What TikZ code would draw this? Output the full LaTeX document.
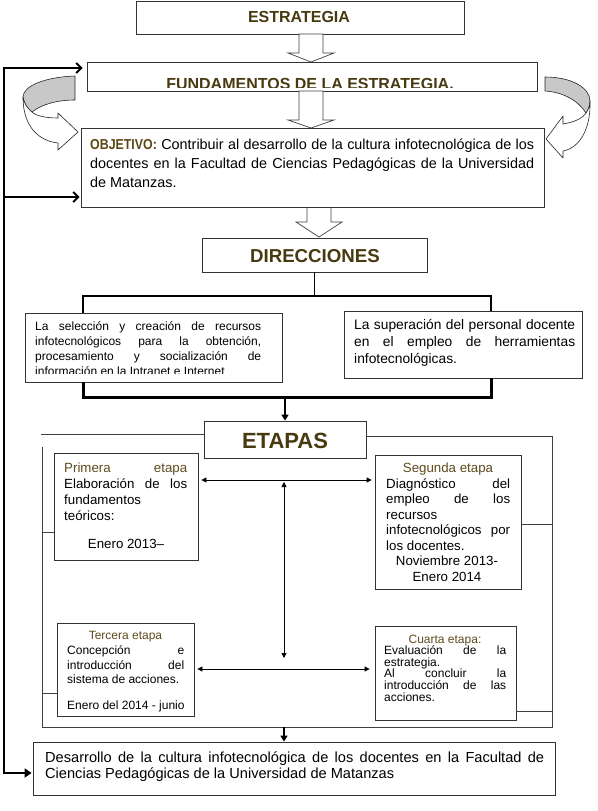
\documentclass[tikz,border=0pt]{standalone}
\usepackage{fontspec}
\setmainfont{Liberation Sans}
\newfontfamily\narrowfont{Liberation Sans Bold}[FakeStretch=0.86]
\usetikzlibrary{arrows.meta}
\definecolor{titlecol}{RGB}{72,58,16}
\definecolor{etapacol}{RGB}{95,75,30}
\definecolor{objcol}{RGB}{92,72,20}
\definecolor{curvgray}{RGB}{200,200,200}
\newcommand{\fs}[2]{\fontsize{#1}{#2}\selectfont}
\tolerance=10000 \hbadness=10000 \hyphenpenalty=10000 \exhyphenpenalty=10000
\begin{document}
\begin{tikzpicture}[x=1pt,y=-1pt,
  box/.style={draw=black!80, line width=0.8pt, fill=white, inner sep=0pt, rectangle},
  blk/.style={draw=black!75, line width=0.7pt, fill=white, line join=miter},
  curv/.style={draw=black!85, line width=0.6pt, line join=round},
  bigline/.style={line width=2.6pt, black},
  hln/.style={line width=2pt, black},
  brk/.style={line width=1.6pt, black},
  thk/.style={line width=3pt, black},
  frm/.style={line width=0.8pt, black!75},
  dbl/.style={line width=0.8pt, black, {Triangle[length=5pt,width=5pt]}-{Triangle[length=5pt,width=5pt]}},
  txt/.style={inner sep=0pt, anchor=base west, align=justify},
  ctr/.style={inner sep=0pt, anchor=base},
  ttl/.style={inner sep=0pt, anchor=base, text=titlecol}
]
\useasboundingbox (0,0) rectangle (597,811);
\fill[white] (0,0) rectangle (597,811);

% ---------- top boxes ----------
\node[box, minimum width=328pt, minimum height=33pt] (estr) at (300.5,17.5) {};
\node[ttl, font=\bfseries\fs{16}{19}] (estrtxt) at (299,23) {ESTRATEGIA};

\node[box, minimum width=450pt, minimum height=29pt] (fund) at (312,76.5) {};
\begin{scope}
  \clip (88,63) rectangle (536,87);
  \node[ttl, font=\bfseries\fs{16}{19}] (fundtxt) at (310,89) {FUNDAMENTOS DE LA ESTRATEGIA.};
\end{scope}

% block arrows
\draw[blk] (299,34) -- (323,34) -- (323,53) -- (334,53) -- (311,62) -- (288,53) -- (299,53) -- cycle;
\draw[blk] (299,91) -- (323,91) -- (323,120) -- (334,120) -- (311,128) -- (288,120) -- (299,120) -- cycle;
\draw[blk] (307,207) -- (331,207) -- (331,222) -- (342,222) -- (319,237) -- (296,222) -- (307,222) -- cycle;

% curved arrows (left)
\draw[curv, fill=curvgray] (75,76) .. controls (45,77) and (23,86) .. (23,97)
   .. controls (24,104) and (28,109) .. (32,112)
   .. controls (42,104) and (58,100) .. (75,100) -- cycle;
\draw[curv, fill=white] (23,97) .. controls (23,128) and (40,141) .. (58,143)
   -- (58,150) -- (78,132) -- (58,113) -- (58,118)
   .. controls (46,118) and (36,116) .. (32,112)
   .. controls (28,109) and (24,104) .. (23,97) -- cycle;
% curved arrows (right)
\draw[curv, fill=curvgray] (545,77) .. controls (572,77) and (590,88) .. (590,101)
   .. controls (590,106) and (588,110) .. (586,113)
   .. controls (578,100) and (562,92) .. (545,91) -- cycle;
\draw[curv, fill=white] (590,101) .. controls (591,128) and (580,148) .. (563,151)
   -- (563,158) -- (546,139) -- (563,116) -- (563,124)
   .. controls (575,122) and (583,118) .. (586,113)
   .. controls (588,110) and (590,106) .. (590,101) -- cycle;

% OBJETIVO
\node[box, minimum width=463pt, minimum height=79pt] (obj) at (312.5,167.5) {};
\node[txt, text width=444pt, font=\fs{14.4}{19}] (objtxt) at (90,149)
 {{\narrowfont\color{objcol}OBJETIVO:} Contribuir al desarrollo de la cultura infotecnológica de los\linebreak docentes en la Facultad de Ciencias Pedagógicas de la Universidad\linebreak de Matanzas.};

% left feedback line
\coordinate (la) at (4,68);
\coordinate (lm) at (4,197);
\coordinate (lc) at (4,773);
\draw[bigline] (4,66.7) -- (4,774.3);
\draw[hln, shorten >=4pt, -{Straight Barb[length=5pt,width=10pt]}] (la) -- (fund.west |- la);
\draw[hln, shorten >=1pt, -{Straight Barb[length=5pt,width=10pt]}] (lm) -- (obj.west |- lm);

% DIRECCIONES
\node[box, minimum width=225pt, minimum height=34pt] (dir) at (314.5,255) {};
\node[ttl, font=\bfseries\fs{18.7}{22}] (dirtxt) at (315,262) {DIRECCIONES};

\node[box, minimum width=257pt, minimum height=69pt] (lbox) at (153.5,347.5) {};
\node[box, minimum width=238pt, minimum height=67pt] (rbox) at (463,344.5) {};
\coordinate (bl) at (83,296);
\coordinate (br) at (491,296);
\draw[brk] (dir.south) -- (dir.south |- bl);
\draw[brk] (lbox.north -| bl) -- (bl) -- (br) -- (rbox.north -| br);
\begin{scope}
  \clip (26,314) rectangle (281,373.5);
  \node[txt, text width=226pt, font=\fs{12}{15}] (lboxtxt) at (35,330)
   {La selección y creación de recursos\linebreak infotecnológicos para la obtención,\linebreak procesamiento y socialización de\linebreak información en la Intranet e Internet};
\end{scope}
\node[txt, text width=221pt, font=\fs{13.8}{17}] (rboxtxt) at (354,329)
 {La superación del personal docente\linebreak en el empleo de herramientas\linebreak infotecnológicas.};

\coordinate (tl) at (83,397);
\coordinate (tr) at (491,397);
\draw[thk, line join=miter] (lbox.south -| tl) -- (tl) -- (tr) -- (rbox.south -| tr);

% ETAPAS
\node[box, minimum width=162pt, minimum height=37pt] (etp) at (285,439.5) {};
\node[ttl, font=\bfseries\fs{22}{26}] (etptxt) at (285,448) {ETAPAS};
\draw[hln, -{Triangle[length=6pt,width=7pt]}] (tl -| etp.north) -- (etp.north);

% frame
\coordinate (fa) at (41,434);
\coordinate (fb) at (552,436);
\coordinate (fc) at (552,727);
\coordinate (fd) at (42,727);
\coordinate (fe) at (42,447);
\draw[frm] (fa) -- (etp.west |- fa);
\draw[frm] (etp.east |- fb) -- (fb) -- (fc) -- (fd) -- (fe);

% stage boxes
\node[box, minimum width=144pt, minimum height=107pt] (p1) at (126,506.5) {};
\node[box, minimum width=146pt, minimum height=134pt] (p2) at (448,522) {};
\node[box, minimum width=137pt, minimum height=93pt] (p3) at (125.5,669.5) {};
\node[box, minimum width=141pt, minimum height=94pt] (p4) at (445.5,673) {};

\coordinate (t1) at (42,532);
\coordinate (t2) at (552,524);
\coordinate (t3) at (42,693);
\coordinate (t4) at (552,711);
\draw[frm] (t1) -- (p1.west |- t1);
\draw[frm] (p2.east |- t2) -- (t2);
\draw[frm] (t3) -- (p3.west |- t3);
\draw[frm] (p4.east |- t4) -- (t4);

% stage texts
\node[txt, text width=123pt, font=\fs{13.3}{16}] (p1txt) at (64,472)
 {{\color{etapacol}Primera etapa}\linebreak Elaboración de los\linebreak fundamentos\linebreak teóricos:};
\node[ctr, font=\fs{13.3}{16}] (p1date) at (126,548) {Enero 2013–};

\node[ctr, font=\fs{13.3}{16}, text=etapacol] (p2ttl) at (448,472.5) {Segunda etapa};
\node[txt, text width=124pt, font=\fs{13.3}{15.5}] (p2txt) at (386,488)
 {Diagnóstico del\linebreak empleo de los\linebreak recursos\linebreak infotecnológicos por\linebreak los docentes.};
\node[ctr, font=\fs{13.3}{16}] (p2d1) at (447,565) {Noviembre 2013-};
\node[ctr, font=\fs{13.3}{16}] (p2d2) at (447,581) {Enero 2014};

\node[ctr, font=\fs{12}{14}, text=etapacol] (p3ttl) at (125.5,639.5) {Tercera etapa};
\node[txt, text width=117pt, font=\fs{12}{14.7}] (p3txt) at (67,654.5)
 {Concepción e\linebreak introducción del\linebreak sistema de acciones.};
\node[inner sep=0pt, anchor=base west, font=\fs{12}{14}] (p3date) at (67,709.5) {Enero del 2014 - junio};

\node[ctr, font=\fs{12}{14}, text=etapacol] (p4ttl) at (445,643) {Cuarta etapa:};
\node[txt, text width=122pt, font=\fs{12}{11.6}] (p4txt) at (384,654.6)
 {Evaluación de la\linebreak estrategia.\linebreak Al concluir la\linebreak introducción de las\linebreak acciones.};

% stage arrows
\coordinate (h1) at (0,480);
\coordinate (h2) at (0,669);
\draw[dbl, shorten <=3pt, shorten >=3pt] (p1.east |- h1) -- (p2.west |- h1);
\coordinate (va) at (284,482);
\coordinate (vb) at (284,658);
\draw[dbl] (va) -- (vb);
\draw[dbl, shorten <=3pt, shorten >=5pt] (p3.east |- h2) -- (p4.west |- h2);

% final box
\node[box, minimum width=522pt, minimum height=53pt] (fin) at (294,768.5) {};
\node[txt, text width=499pt, font=\fs{14.6}{16}] (fintxt) at (45,762)
 {Desarrollo de la cultura infotecnológica de los docentes en la Facultad de\linebreak Ciencias Pedagógicas de la Universidad de Matanzas};
\coordinate (fx) at (284,727);
\draw[hln, -{Triangle[length=6pt,width=7pt]}] (fx) -- (fx |- fin.north);
\draw[hln, shorten >=1pt, -{Triangle[length=7pt,width=9pt]}] (lc) -- (fin.west |- lc);
\end{tikzpicture}
\end{document}
